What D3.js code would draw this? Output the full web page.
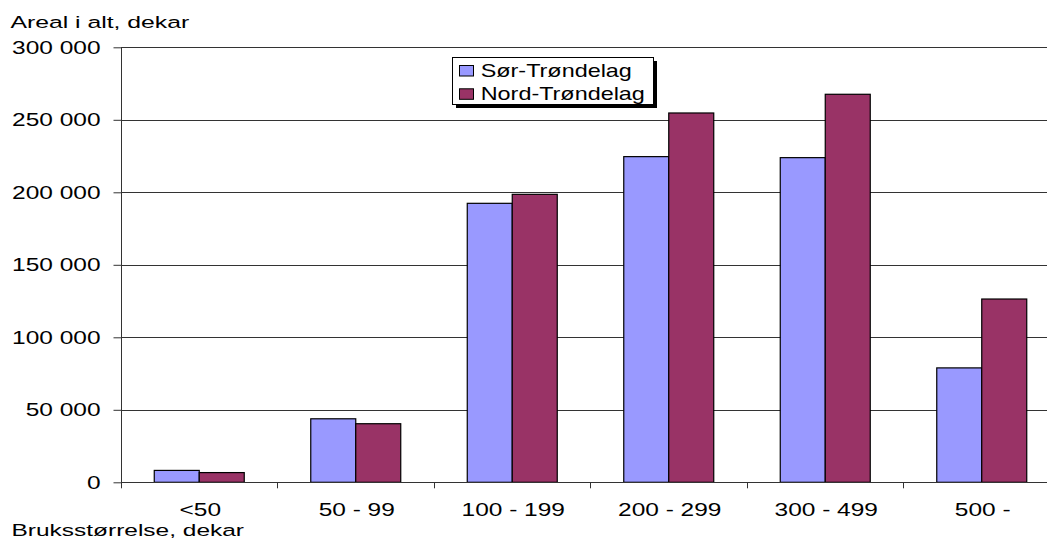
<!DOCTYPE html>
<html><head><meta charset="utf-8">
<script src="https://cdn.jsdelivr.net/npm/d3@7"></script>
<style>body{margin:0;background:#fff;overflow:hidden}svg{display:block}text{font-family:"Liberation Sans",Arial,sans-serif;fill:#000}</style>
</head><body><svg id="c" width="1047" height="538"></svg>
<script>
const categories = ["<50", "50 - 99", "100 - 199", "200 - 299", "300 - 499", "500 -"];
const seriesNames = ["Sør-Trøndelag", "Nord-Trøndelag"];
const sorTrondelag = [8200, 43800, 192400, 224600, 223900, 78900];
const nordTrondelag = [6700, 40400, 198600, 254700, 267600, 126400];
const yTicks = [0, 50000, 100000, 150000, 200000, 250000, 300000];
const colors = ["#9999ff", "#993366"];

const svg = d3.select("#c");
const pLeft = 121, pRight = 1060, pTop = 47.3, pBottom = 482.3;
const x = d3.scaleBand().domain(categories).range([pLeft, pRight]).paddingInner(0.425).paddingOuter(0.2125);
const xs = d3.scaleBand().domain(seriesNames).range([0, x.bandwidth()]);
const y = d3.scaleLinear().domain([0, 300000]).range([pBottom, pTop]);
const fmt = v => d3.format(",")(v).replace(/,/g, " ");

// stretched text helper (reference text is horizontally widened)
function sText(g, tx, ty, str, size, sx, anchor) {
  return g.append("text")
    .attr("transform", `translate(${tx},${ty}) scale(${sx},1)`)
    .attr("font-size", size).attr("text-anchor", anchor || "start").text(str);
}

// gridlines
svg.append("g").selectAll("line").data(yTicks.filter(d => d > 0)).join("line")
  .attr("x1", pLeft).attr("x2", 1047)
  .attr("y1", d => Math.round(y(d)) + 0.5).attr("y2", d => Math.round(y(d)) + 0.5)
  .attr("stroke", "#333").attr("stroke-width", 1);

// bars
const data = [sorTrondelag, nordTrondelag];
data.forEach((vals, si) => {
  svg.append("g").selectAll("rect").data(vals).join("rect")
    .attr("x", (d, i) => x(categories[i]) + xs(seriesNames[si]))
    .attr("y", d => y(d))
    .attr("width", xs.bandwidth())
    .attr("height", d => y(0) - y(d))
    .attr("fill", colors[si]).attr("stroke", "#000").attr("stroke-width", 1.2);
});

// y axis (ticks via d3 axis, labels stretched)
const yAxis = d3.axisLeft(y).tickValues(yTicks).tickFormat("").tickSize(8);
const ga = svg.append("g").attr("transform", `translate(${pLeft + 0.5},0)`).call(yAxis);
ga.select(".domain").remove();
ga.selectAll(".tick line").attr("stroke", "#333");
const yl = svg.append("g");
yTicks.forEach(t => sText(yl, 100.5, y(t) + 6.2, fmt(t), 17.5, 1.4, "end"));
svg.append("line").attr("x1", pLeft + 0.5).attr("x2", pLeft + 0.5).attr("y1", pTop).attr("y2", pBottom).attr("stroke", "#333");

// x axis
svg.append("line").attr("x1", pLeft).attr("x2", 1047).attr("y1", Math.round(pBottom) + 0.5).attr("y2", Math.round(pBottom) + 0.5).attr("stroke", "#333");
const bounds = categories.map(c => x(c) - x.step() * 0.2125).concat([pRight]);
svg.append("g").selectAll("line").data(bounds).join("line")
  .attr("x1", d => Math.round(d) + 0.5).attr("x2", d => Math.round(d) + 0.5)
  .attr("y1", pBottom).attr("y2", pBottom + 6).attr("stroke", "#333");
const xl = svg.append("g");
categories.forEach(c => sText(xl, x(c) + x.bandwidth() / 2 + 1, 516, c, 17.5, 1.4, "middle"));

// titles
sText(svg, 10.5, 27.7, "Areal i alt, dekar", 16.5, 1.5);
sText(svg, 11.5, 535.5, "Bruksstørrelse, dekar", 17, 1.44);

// legend
const lg = svg.append("g");
lg.append("rect").attr("x", 456).attr("y", 61).attr("width", 201).attr("height", 47).attr("fill", "#000");
lg.append("rect").attr("x", 452.5).attr("y", 57.5).attr("width", 201).attr("height", 47).attr("fill", "#fff").attr("stroke", "#000");
seriesNames.forEach((n, i) => {
  const by = 77 + i * 23.3;
  lg.append("rect").attr("x", 459.5).attr("y", by - 11.5).attr("width", 14).attr("height", 10.5)
    .attr("fill", colors[i]).attr("stroke", "#000");
  sText(lg, 480.7, by, n, 18, 1.3);
});
</script></body></html>
